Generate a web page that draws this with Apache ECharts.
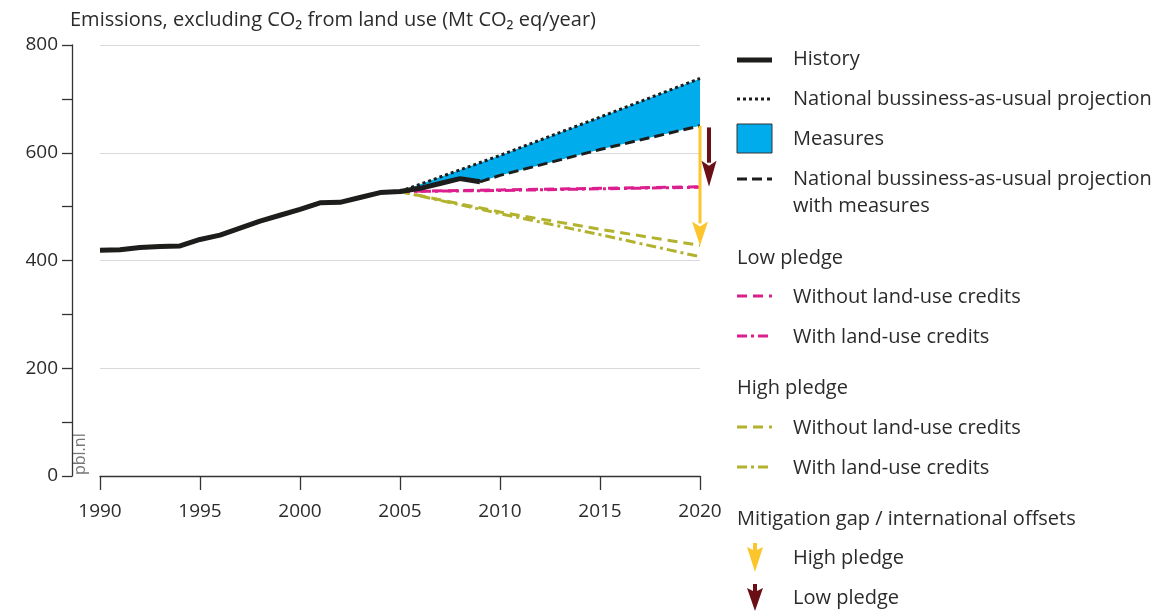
<!DOCTYPE html>
<html>
<head>
<meta charset="utf-8">
<script src="https://cdn.jsdelivr.net/npm/echarts@6/dist/echarts.min.js"></script>
<style>
html,body{margin:0;padding:0;background:#fff;}
#chart{width:1161px;height:611px;}
</style>
</head>
<body>
<div id="chart"></div>
<script>
// ---- data ----
const historyYears = [1990,1991,1992,1993,1994,1995,1996,1997,1998,1999,2000,2001,2002,2003,2004,2005,2006,2007,2008,2009];
const historyValues = [419,420,424,426,427,439,447,460,473,484,495,507,508,517,526,528,534,543,552,546];

const bauYears = [2005,2010,2015,2020];
const bauValues = [528,595,666,738];

const bauMeasuresYears = [2009,2010,2015,2020];
const bauMeasuresValues = [546,558,606,650];

const pledgeYears = [2005,2010,2015,2020];
const lowWithout = [528,531,534,537];
const lowWith = [528,530,533,536];
const highWithout = [528,490,458,428];
const highWith = [528,487,448,407];

const xTicks = [1990,1995,2000,2005,2010,2015,2020];
const yTicks = [0,200,400,600,800];

const titleText = 'Emissions, excluding CO\u2082 from land use (Mt CO\u2082 eq/year)';

const FONT = '"Open Sans", Lato, sans-serif';
const TXT = '#2b2b2b';
const BLACK = '#1d1d1b';
const MAGENTA = '#dc1f8e';
const OLIVE = '#b3b22e';
const BLUE = '#00acec';
const YELLOW = '#fdc52c';
const DARKRED = '#6a0f16';

const zip = (xs, ys) => xs.map((x, i) => [x, ys[i]]);

function lineSeries(name, xs, ys, color, width, dash, z) {
  return {
    name, type: 'line', data: zip(xs, ys), showSymbol: false, symbol: 'none',
    lineStyle: { color, width, type: dash, cap: 'butt' }, z, silent: true
  };
}

// measures band polygon: upper = BAU, lower = history (2005-2009) then BAU with measures
const bandUpper = zip(bauYears, bauValues);
const bandLower = zip(historyYears, historyValues).filter(p => p[0] >= 2005)
  .concat(zip(bauMeasuresYears, bauMeasuresValues).filter(p => p[0] > 2009));

function arrowSeries(name, year, from, to, color, dx, shaftW, headW, headL) {
  return {
    name, type: 'custom', z: 10, silent: true,
    data: [[year, from, to]],
    encode: { x: 0, y: [1, 2] },
    renderItem: (params, api) => {
      const p1 = api.coord([api.value(0), api.value(1)]);
      const p2 = api.coord([api.value(0), api.value(2)]);
      const x = p1[0] + dx;
      return {
        type: 'group',
        children: [
          { type: 'line', shape: { x1: x, y1: p1[1], x2: x, y2: p2[1] - headL + 2 },
            style: { stroke: color, lineWidth: shaftW } },
          { type: 'polygon', shape: { points: [[x - headW / 2, p2[1] - headL], [x, p2[1] - headL + 5], [x + headW / 2, p2[1] - headL], [x, p2[1]]] },
            style: { fill: color } }
        ]
      };
    }
  };
}

const last = a => a[a.length - 1];

const series = [
  {
    name: 'Measures', type: 'custom', z: 1, silent: true,
    data: [[2005, 0]],
    renderItem: (params, api) => {
      const pts = bandUpper.map(p => api.coord(p))
        .concat(bandLower.slice().reverse().map(p => api.coord(p)));
      return { type: 'polygon', shape: { points: pts }, style: { fill: BLUE } };
    }
  },
  lineSeries('High pledge with land-use credits', pledgeYears, highWith, OLIVE, 3, [10, 4, 3, 4], 3),
  lineSeries('High pledge without land-use credits', pledgeYears, highWithout, OLIVE, 3, [10, 6], 3),
  lineSeries('Low pledge with land-use credits', pledgeYears, lowWith, MAGENTA, 3, [10, 4, 3, 4], 3),
  lineSeries('Low pledge without land-use credits', pledgeYears, lowWithout, MAGENTA, 3, [10, 6], 3),
  lineSeries('National bussiness-as-usual projection with measures', bauMeasuresYears, bauMeasuresValues, BLACK, 3, [10, 5], 4),
  lineSeries('National bussiness-as-usual projection', bauYears, bauValues, BLACK, 3, [3, 3], 4),
  lineSeries('History', historyYears, historyValues, BLACK, 5, 'solid', 5),
  arrowSeries('Gap high pledge', 2020, last(bauMeasuresValues), last(highWithout), YELLOW, 0, 3, 16, 24),
  arrowSeries('Gap low pledge', 2020, last(bauMeasuresValues) - 3, last(lowWithout), DARKRED, 9, 4, 15, 26)
];

// ---- legend (graphic) ----
const LX = 737, LX2 = 772, TX = 793, FS = 20;
function legLine(y, color, width, dash) {
  return { type: 'line', shape: { x1: LX, y1: y, x2: LX2, y2: y }, style: { stroke: color, lineWidth: width, lineDash: dash } };
}
function legText(x, y, text) {
  return { type: 'text', x, y, style: { text, fill: TXT, font: FS + 'px ' + FONT, textAlign: 'left', textVerticalAlign: 'middle' } };
}
function legArrow(cx, y1, y2, color) {
  return { type: 'polygon', shape: { points: [[cx - 8, y1], [cx, y1 + 4], [cx + 8, y1], [cx, y2]] }, style: { fill: color } };
}
const legend = [
  legLine(60, BLACK, 5, null), legText(TX, 59, 'History'),
  legLine(99, BLACK, 3, [3, 3]), legText(TX, 99, 'National bussiness-as-usual projection'),
  { type: 'rect', shape: { x: LX, y: 124, width: 35, height: 29 }, style: { fill: BLUE, stroke: '#333', lineWidth: 1 } },
  legText(TX, 139, 'Measures'),
  legLine(179, BLACK, 3, [10, 5]), legText(TX, 179, 'National bussiness-as-usual projection'),
  legText(TX, 206, 'with measures'),
  legText(LX, 258, 'Low pledge'),
  legLine(296, MAGENTA, 3, [10, 6]), legText(TX, 297, 'Without land-use credits'),
  legLine(336, MAGENTA, 3, [10, 4, 3, 4]), legText(TX, 337, 'With land-use credits'),
  legText(LX, 388, 'High pledge'),
  legLine(427, OLIVE, 3, [10, 6]), legText(TX, 428, 'Without land-use credits'),
  legLine(467, OLIVE, 3, [10, 4, 3, 4]), legText(TX, 468, 'With land-use credits'),
  legText(LX, 519, 'Mitigation gap / international offsets'),
  { type: 'rect', shape: { x: 753, y: 543, width: 4, height: 8 }, style: { fill: YELLOW } },
  legArrow(755, 547, 572, YELLOW), legText(TX, 558, 'High pledge'),
  { type: 'rect', shape: { x: 753, y: 584, width: 4, height: 8 }, style: { fill: DARKRED } },
  legArrow(755, 588, 611, DARKRED), legText(TX, 598, 'Low pledge')
];

const chart = echarts.init(document.getElementById('chart'), null, { renderer: 'canvas' });
chart.setOption({
  animation: false,
  backgroundColor: '#fff',
  grid: { left: 100, right: 461, top: 45, bottom: 135, containLabel: false },
  xAxis: {
    type: 'value', min: xTicks[0], max: last(xTicks), interval: 5,
    axisLine: { show: true, lineStyle: { color: '#333', width: 1.3 } },
    axisTick: { show: true, length: 14, lineStyle: { color: '#333', width: 1.3 } },
    axisLabel: { color: TXT, fontSize: 19, fontFamily: FONT, margin: 26, formatter: v => String(v) },
    splitLine: { show: false }
  },
  yAxis: {
    type: 'value', min: yTicks[0], max: last(yTicks), interval: 200, offset: 28,
    axisLine: { show: true, lineStyle: { color: '#333', width: 1.3 } },
    axisTick: { show: true, length: 10, lineStyle: { color: '#333', width: 1.3 } },
    minorTick: { show: true, splitNumber: 2, length: 10, lineStyle: { color: '#333', width: 1.3 } },
    axisLabel: { color: TXT, fontSize: 19, fontFamily: FONT, margin: 14, formatter: v => String(v) },
    splitLine: { show: true, lineStyle: { color: '#d9d9d9', width: 1 } }
  },
  graphic: [
    { type: 'text', x: 70, y: 20, style: { text: titleText, fill: TXT, font: '20px ' + FONT, textVerticalAlign: 'middle' } },
    { type: 'text', x: 80, y: 475, rotation: Math.PI / 2, style: { text: 'pbl.nl', fill: '#777', font: '16px ' + FONT, textAlign: 'left', textVerticalAlign: 'middle' } }
  ].concat(legend),
  series
});
</script>
</body>
</html>
